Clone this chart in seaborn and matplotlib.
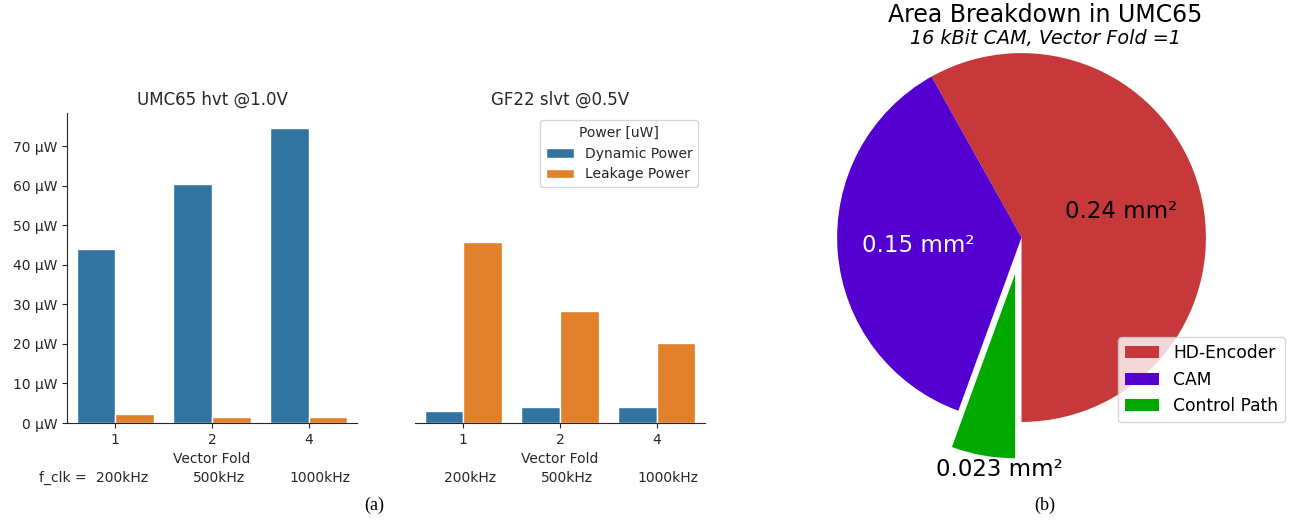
import numpy as np
import pandas as pd
import matplotlib
matplotlib.use("Agg")
import matplotlib.pyplot as plt
import matplotlib.ticker as mticker
import seaborn as sns

# power data (uW) per vector fold
vector_fold = ["1", "2", "4"]
freq_labels = ["200kHz", "500kHz", "1000kHz"]
umc65_dynamic = [44.1, 60.5, 74.6]
umc65_leakage = [2.4, 1.6, 1.4]
gf22_dynamic = [3.0, 4.0, 4.1]
gf22_leakage = [45.7, 28.4, 20.1]

# area breakdown (mm^2)
area_parts = ["HD-Encoder", "CAM", "Control Path"]
area_values = [0.24, 0.15, 0.023]
area_colors = ["#c7383a", "#5300d1", "#00a800"]
area_explode = [0, 0, 0.2]

sns.set_style("ticks")
plt.rcParams["font.family"] = ["DejaVu Sans"]


def make_df(dyn, leak):
    return pd.DataFrame({
        "Vector Fold": vector_fold * 2,
        "value": dyn + leak,
        "Power [uW]": ["Dynamic Power"] * 3 + ["Leakage Power"] * 3,
    })


fig = plt.figure(figsize=(12.98, 5.2), dpi=100)
ax1 = fig.add_axes([0.0516, 0.1865, 0.2234, 0.596])
ax2 = fig.add_axes([0.3197, 0.1865, 0.2234, 0.596], sharey=ax1)

sns.barplot(data=make_df(umc65_dynamic, umc65_leakage), x="Vector Fold", y="value",
            hue="Power [uW]", ax=ax1, legend=False)
sns.barplot(data=make_df(gf22_dynamic, gf22_leakage), x="Vector Fold", y="value",
            hue="Power [uW]", ax=ax2)

ax1.set_title("UMC65 hvt @1.0V", fontsize=12)
ax2.set_title("GF22 slvt @0.5V", fontsize=12)
for ax in (ax1, ax2):
    ax.set_ylabel("")
    ax.set_xlabel("Vector Fold", fontsize=10)
    ax.tick_params(labelsize=10)
    for i, f in enumerate(freq_labels):
        ax.text(i - 0.2, -0.177, f, ha="left", va="center", fontsize=10,
                color=".15", transform=ax.get_xaxis_transform())
ax1.text(-0.3, -0.177, "f_clk =", ha="right", va="center", fontsize=10,
         color=".15", transform=ax1.get_xaxis_transform())
ax1.yaxis.set_major_formatter(mticker.StrMethodFormatter("{x:.0f} µW"))
sns.despine(ax=ax1)
sns.despine(ax=ax2, left=True)
ax2.tick_params(axis="y", left=False, labelleft=False)
leg = ax2.legend(title="Power [uW]", loc="upper right", fontsize=10, title_fontsize=10)

# pie chart
ax3 = fig.add_axes([0.6094, 0.1, 0.3552, 0.8865])
wedges, texts, autotexts = ax3.pie(
    area_values, colors=area_colors, explode=area_explode, startangle=-90,
    autopct=lambda p: f"{p * sum(area_values) / 100:.2g} mm²", pctdistance=0.56,
    wedgeprops=dict(linewidth=0), textprops=dict(fontsize=16.5))
autotexts[0].set_color("black")
autotexts[1].set_color("white")
autotexts[2].set_color("black")
autotexts[2].set_position((-0.12, -1.26))
ax3.legend(wedges, area_parts, loc="lower right", fontsize=12.3,
           bbox_to_anchor=(0.99, 0.188), bbox_transform=fig.transFigure,
           borderaxespad=0, labelcolor="black")

fig.text(0.8055, 0.971, "Area Breakdown in UMC65", ha="center", va="center",
         fontsize=17, color="black")
fig.text(0.8055, 0.926, "16 kBit CAM, Vector Fold =1", ha="center", va="center",
         fontsize=13.8, style="italic", color="black")

fig.text(0.288, 0.029, "(a)", ha="center", va="center", fontsize=13,
         family="Liberation Serif", color="black")
fig.text(0.805, 0.029, "(b)", ha="center", va="center", fontsize=13,
         family="Liberation Serif", color="black")

fig.savefig("out.png", dpi=100)
